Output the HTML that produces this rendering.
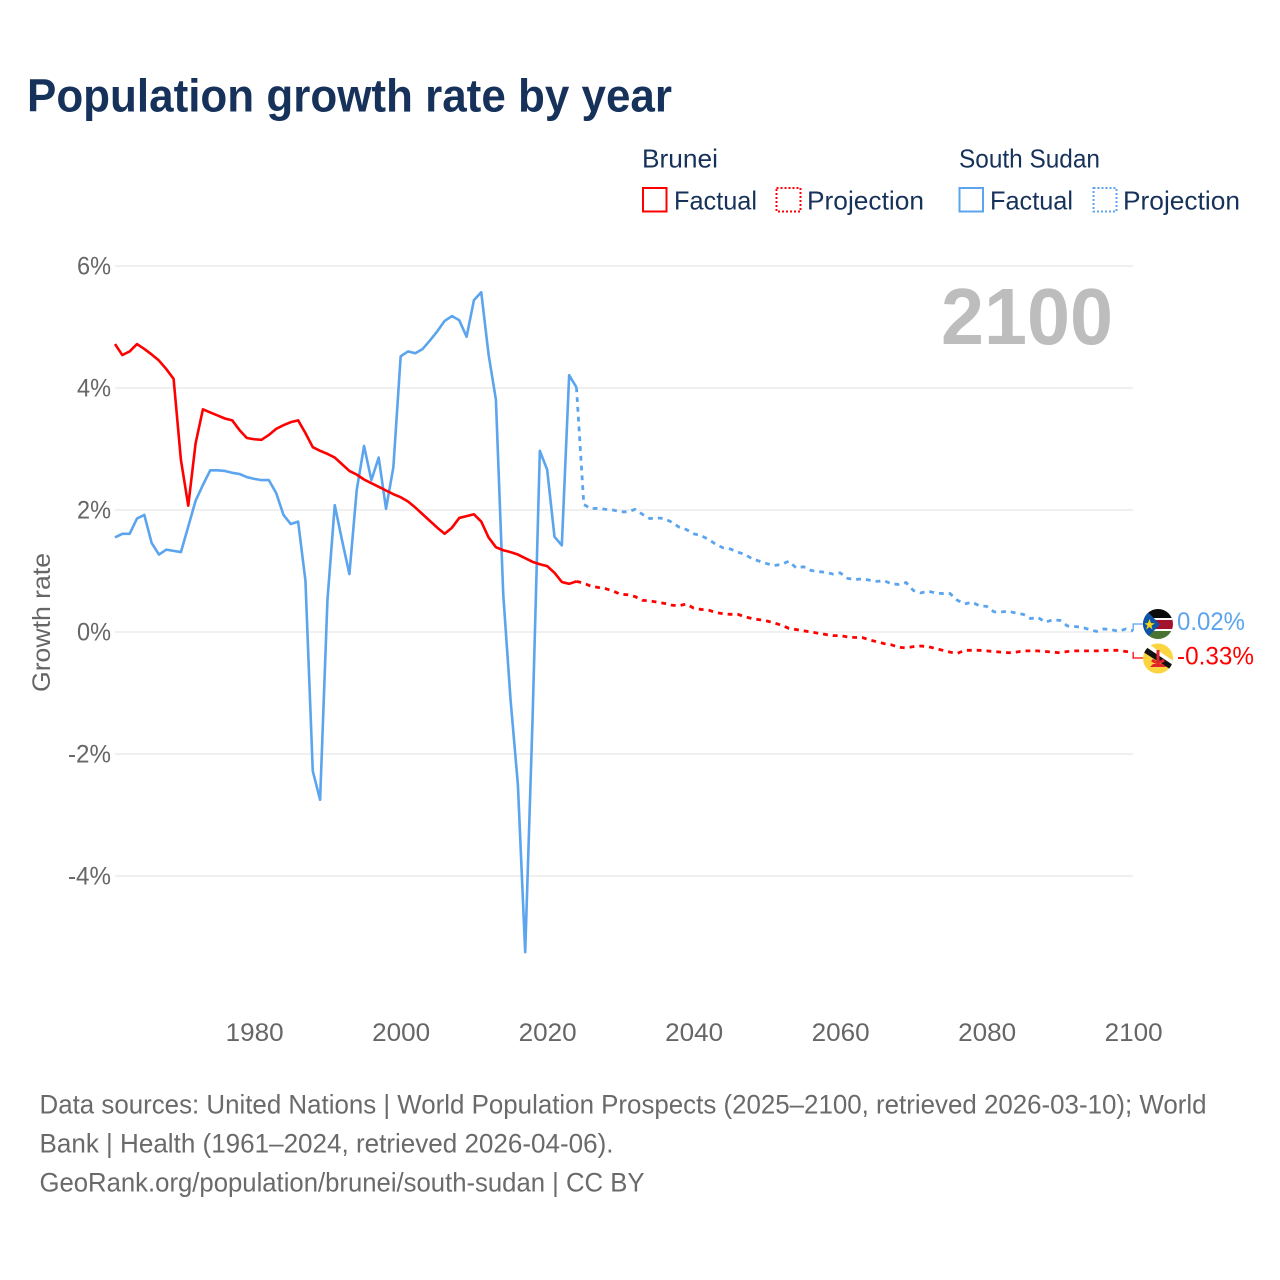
<!DOCTYPE html>
<html lang="en">
<head>
<meta charset="utf-8">
<title>Population growth rate by year</title>
<style>
html,body{margin:0;padding:0;background:#fff;width:1280px;height:1280px;overflow:hidden}
svg{display:block}
text{font-family:"Liberation Sans",sans-serif}
</style>
</head>
<body>
<svg id="chart" xmlns="http://www.w3.org/2000/svg" width="1280" height="1280" viewBox="0 0 1280 1280">
  <defs>
    <clipPath id="clip-ss"><circle cx="1158" cy="624" r="15"/></clipPath>
    <clipPath id="clip-bn"><circle cx="1158" cy="658.5" r="15"/></clipPath>
  </defs>
  <rect width="1280" height="1280" fill="#fff"/>
  <text x="27" y="111.5" font-size="46" font-weight="700" fill="#17325a" textLength="645" lengthAdjust="spacingAndGlyphs">Population growth rate by year</text>

  <g fill="#17325a" font-size="26">
    <text x="642" y="167.5" textLength="76" lengthAdjust="spacingAndGlyphs">Brunei</text>
    <text x="959" y="167.5" textLength="141" lengthAdjust="spacingAndGlyphs">South Sudan</text>
    <rect x="643" y="188" width="23.5" height="23.5" fill="none" stroke="#ff0000" stroke-width="2"/>
    <text x="674" y="209.5" textLength="83" lengthAdjust="spacingAndGlyphs">Factual</text>
    <rect x="776.5" y="188" width="24" height="23.5" fill="none" stroke="#ff0000" stroke-width="2" stroke-dasharray="2 2"/>
    <text x="807" y="209.5" textLength="117" lengthAdjust="spacingAndGlyphs">Projection</text>
    <rect x="959.5" y="188" width="23.5" height="23.5" fill="none" stroke="#5ba4ee" stroke-width="2"/>
    <text x="990" y="209.5" textLength="83" lengthAdjust="spacingAndGlyphs">Factual</text>
    <rect x="1093.5" y="188" width="23" height="23.5" fill="none" stroke="#5ba4ee" stroke-width="2" stroke-dasharray="2 2"/>
    <text x="1123" y="209.5" textLength="117" lengthAdjust="spacingAndGlyphs">Projection</text>
  </g>

  <g id="grid"></g>
  <g id="y-axis"></g>
  <g id="x-axis"></g>
  <text transform="translate(50,622.5) rotate(-90)" text-anchor="middle" font-size="25" fill="#666" textLength="139" lengthAdjust="spacingAndGlyphs">Growth rate</text>
  <text x="1113" y="344" text-anchor="end" font-size="80" font-weight="700" fill="#bdbdbd" textLength="172" lengthAdjust="spacingAndGlyphs">2100</text>

  <g id="series"></g>

  <g clip-path="url(#clip-ss)">
    <rect x="1143" y="609" width="30" height="11" fill="#0b0b0b"/>
    <rect x="1143" y="618" width="30" height="2" fill="#fff"/>
    <rect x="1143" y="620" width="30" height="9" fill="#a5122d"/>
    <rect x="1143" y="629" width="30" height="2" fill="#fff"/>
    <rect x="1143" y="631" width="30" height="9" fill="#4a7232"/>
    <polygon points="1143,607 1160,624.5 1143,642" fill="#0f54a6"/>
    <polygon points="1149.5,619 1151,623 1155,623.5 1151.5,625.5 1152.5,629.5 1149.5,627 1146,629.5 1147.5,625.5 1144.5,623.5 1148,623" fill="#f7d618"/>
  </g>
  <g clip-path="url(#clip-bn)">
    <rect x="1143" y="643" width="30" height="31" fill="#fbd43f"/>
    <polygon points="1140,647 1144,641 1178,664 1174,671" fill="#fff"/>
    <polygon points="1140,650 1143,645 1176,667 1173,671" fill="#111"/>
    <path d="M1158,650 v14 M1152,660 q6,5 12,0" stroke="#e0252b" stroke-width="3" fill="none"/>
    <polygon points="1153,664 1163,664 1166,667 1150,667" fill="#e0252b"/>
  </g>
  <text x="1177" y="630" font-size="25" fill="#5ba4ee" textLength="68" lengthAdjust="spacingAndGlyphs">0.02%</text>
  <text x="1177" y="664.5" font-size="25" fill="#ff0000" textLength="77" lengthAdjust="spacingAndGlyphs">-0.33%</text>

  <g font-size="26.5" fill="#6a6a6a">
    <text x="39.5" y="1113.5" textLength="1167" lengthAdjust="spacingAndGlyphs">Data sources: United Nations | World Population Prospects (2025–2100, retrieved 2026-03-10); World</text>
    <text x="39.5" y="1152.5" textLength="574" lengthAdjust="spacingAndGlyphs">Bank | Health (1961–2024, retrieved 2026-04-06).</text>
    <text x="39.5" y="1191.5" textLength="605" lengthAdjust="spacingAndGlyphs">GeoRank.org/population/brunei/south-sudan | CC BY</text>
  </g>
</svg>
<script>
var yTicks = [6, 4, 2, 0, -2, -4];
var xTicks = [1980, 2000, 2020, 2040, 2060, 2080, 2100];
var firstYear = 1961;
var projectionFirstYear = 2025;

var bruneiFactual = [4.72,4.54,4.60,4.72,4.64,4.55,4.45,4.31,4.15,2.82,2.07,3.09,3.65,3.60,3.55,3.50,3.47,3.31,3.18,3.16,3.15,3.23,3.33,3.39,3.44,3.47,3.26,3.03,2.97,2.92,2.86,2.75,2.64,2.58,2.50,2.44,2.38,2.32,2.26,2.21,2.14,2.04,1.93,1.82,1.71,1.61,1.71,1.87,1.90,1.93,1.81,1.55,1.39,1.34,1.31,1.27,1.21,1.15,1.11,1.08,0.97,0.82,0.79,0.83];
var bruneiProjection = [0.80,0.75,0.73,0.71,0.67,0.62,0.61,0.58,0.52,0.51,0.49,0.47,0.44,0.43,0.46,0.39,0.37,0.36,0.32,0.30,0.29,0.29,0.25,0.22,0.20,0.18,0.15,0.11,0.06,0.04,0.02,0.00,-0.02,-0.04,-0.06,-0.06,-0.08,-0.09,-0.09,-0.13,-0.16,-0.19,-0.21,-0.25,-0.26,-0.24,-0.23,-0.24,-0.27,-0.30,-0.33,-0.35,-0.30,-0.30,-0.30,-0.31,-0.32,-0.33,-0.34,-0.33,-0.31,-0.31,-0.31,-0.32,-0.33,-0.34,-0.32,-0.31,-0.31,-0.31,-0.31,-0.30,-0.30,-0.30,-0.32,-0.33];
var southSudanFactual = [1.55,1.61,1.61,1.86,1.92,1.46,1.27,1.35,1.33,1.31,1.73,2.15,2.41,2.65,2.65,2.64,2.61,2.59,2.54,2.51,2.49,2.49,2.28,1.92,1.77,1.81,0.84,-2.28,-2.75,0.52,2.08,1.50,0.95,2.33,3.05,2.49,2.86,2.02,2.70,4.52,4.60,4.57,4.64,4.78,4.93,5.10,5.18,5.11,4.84,5.44,5.57,4.55,3.81,0.62,-1.11,-2.50,-5.25,-1.44,2.97,2.66,1.56,1.42,4.21,4.01];
var southSudanProjection = [2.09,2.02,2.03,2.01,2.00,1.97,1.97,2.01,1.93,1.86,1.87,1.86,1.80,1.72,1.68,1.61,1.58,1.52,1.44,1.38,1.36,1.31,1.27,1.20,1.16,1.12,1.09,1.11,1.16,1.05,1.07,1.01,0.99,0.98,0.95,0.97,0.88,0.86,0.87,0.85,0.83,0.84,0.79,0.78,0.81,0.68,0.64,0.67,0.64,0.63,0.63,0.52,0.46,0.49,0.43,0.42,0.33,0.33,0.34,0.31,0.29,0.22,0.24,0.16,0.20,0.19,0.10,0.09,0.08,0.04,0.01,0.05,0.04,0.01,0.05,0.02];

var NS = 'http://www.w3.org/2000/svg';
function xScale(year) { return 115 + (year - firstYear) * 7.325; }
function yScale(v) { return 632 - v * 61; }
function pathFrom(values, startYear) {
  return values.map(function (v, i) {
    return (i ? 'L' : 'M') + xScale(startYear + i).toFixed(2) + ' ' + yScale(v).toFixed(2);
  }).join(' ');
}
function make(tag, parent) {
  var el = document.createElementNS(NS, tag);
  parent.appendChild(el);
  return el;
}
var grid = document.getElementById('grid');
var yAxis = document.getElementById('y-axis');
var xAxis = document.getElementById('x-axis');
var seriesG = document.getElementById('series');

yTicks.forEach(function (t) {
  var line = make('line', grid);
  
  
  line.setAttribute('x1', 115);
  line.setAttribute('x2', 1133);
  line.setAttribute('y1', yScale(t));
  line.setAttribute('y2', yScale(t));
  line.setAttribute('stroke', '#ececec');
  line.setAttribute('stroke-width', '1.6');
  var label = make('text', yAxis);
  
  
  label.setAttribute('x', 111);
  label.setAttribute('y', yScale(t) + 8.5);
  label.setAttribute('text-anchor', 'end');
  label.setAttribute('font-size', '25');
  label.setAttribute('fill', '#666');
  label.setAttribute('textLength', t < 0 ? 43 : 34);
  label.setAttribute('lengthAdjust', 'spacingAndGlyphs');
  label.textContent = t + '%';
});

xTicks.forEach(function (t) {
  var label = make('text', xAxis);
  
  
  label.setAttribute('x', xScale(t) + 0.5);
  label.setAttribute('y', 1041);
  label.setAttribute('text-anchor', 'middle');
  label.setAttribute('font-size', '25');
  label.setAttribute('fill', '#666');
  label.setAttribute('textLength', 58);
  label.setAttribute('lengthAdjust', 'spacingAndGlyphs');
  label.textContent = t;
});

function drawSeries(factual, projection, color, key, flagY) {
  var lastYear = projectionFirstYear + projection.length - 1;
  var solid = make('path', seriesG);
  
  
  solid.setAttribute('d', pathFrom(factual, firstYear));
  solid.setAttribute('fill', 'none');
  solid.setAttribute('stroke', color);
  solid.setAttribute('stroke-width', '2.6');
  solid.setAttribute('stroke-linejoin', 'round');

  var joined = [factual[factual.length - 1]].concat(projection);
  var dashed = make('path', seriesG);
  
  
  dashed.setAttribute('d', pathFrom(joined, projectionFirstYear - 1));
  dashed.setAttribute('fill', 'none');
  dashed.setAttribute('stroke', color);
  dashed.setAttribute('stroke-width', '2.8');
  dashed.setAttribute('stroke-dasharray', '4.8 5');

  var x0 = xScale(lastYear);
  var y0 = yScale(projection[projection.length - 1]);
  var lead = make('path', seriesG);
  
  
  lead.setAttribute('d', 'M' + x0 + ' ' + y0 + ' V' + flagY + ' H1144');
  lead.setAttribute('fill', 'none');
  lead.setAttribute('stroke', color);
  lead.setAttribute('stroke-width', '1.3');
}
drawSeries(southSudanFactual, southSudanProjection, '#5ba4ee', 'south-sudan', 624);
drawSeries(bruneiFactual, bruneiProjection, '#ff0000', 'brunei', 658);
</script>
</body>
</html>
